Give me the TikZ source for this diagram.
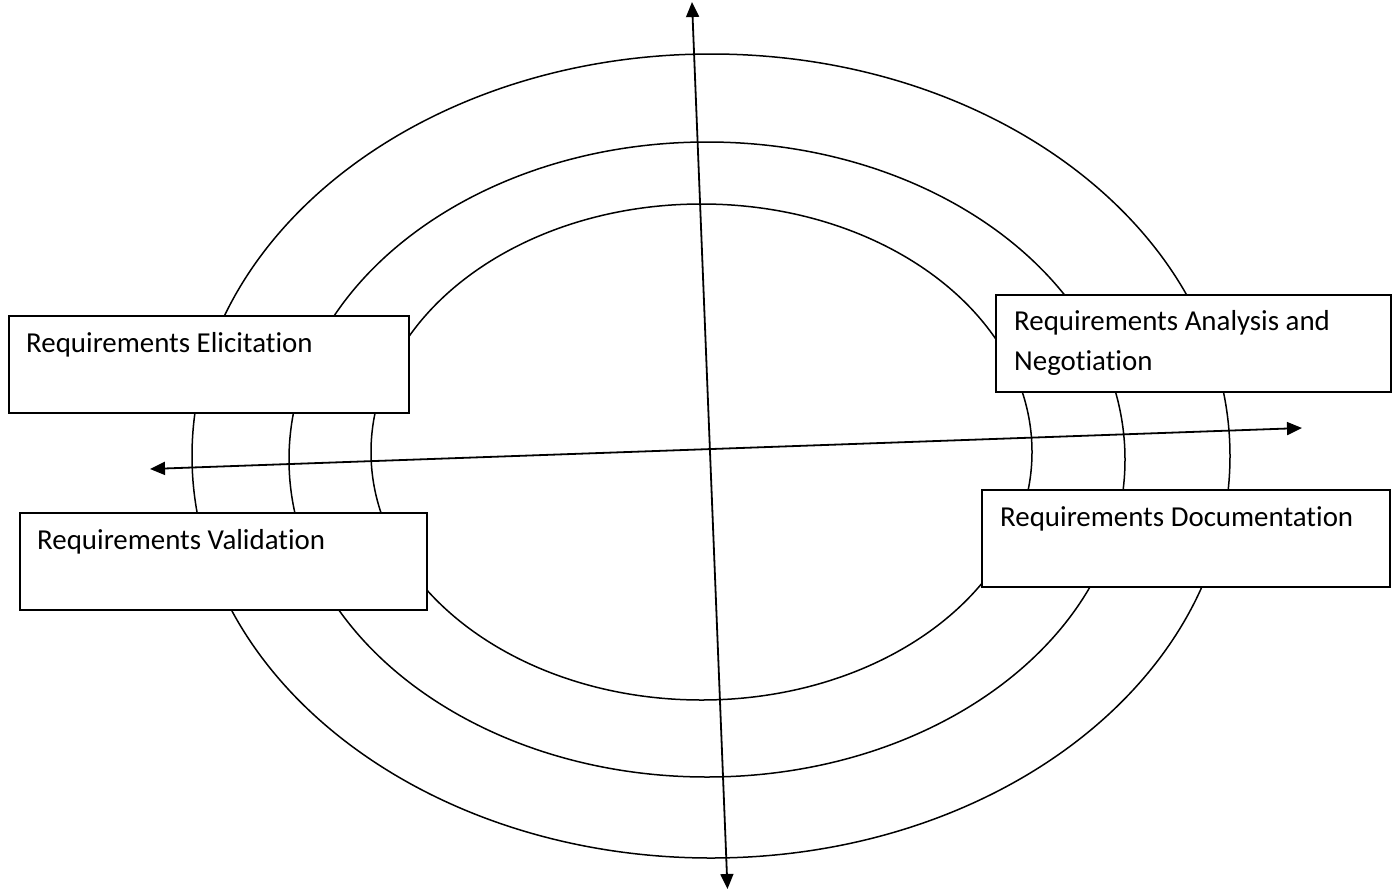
\documentclass[tikz,border=0pt]{standalone}
\usepackage{fontspec}
\setmainfont[Ligatures=NoCommon]{Carlito}
\usetikzlibrary{arrows.meta}
\begin{document}
\begin{tikzpicture}[x=1pt,y=-1pt,
  ring/.style={draw=black,line width=1.5pt},
  stagebox/.style={draw=black,fill=white,line width=1.7pt,rectangle,inner sep=0pt,anchor=north west},
  lbl/.style={inner sep=0pt,anchor=base west,font=\fontsize{28.9}{40}\selectfont},
  axis/.style={draw=black,line width=1.8pt,{Triangle[length=15pt,width=13pt]}-{Triangle[length=15pt,width=13pt]}}
]
\useasboundingbox[fill=white] (0,0) rectangle (1400,892);

% three nested process rings
\draw[ring] (711,456) ellipse [x radius=519pt, y radius=402pt];
\draw[ring] (707,459.5) ellipse [x radius=418pt, y radius=317.5pt];
\draw[ring] (701.5,452) ellipse [x radius=330.5pt, y radius=248pt];

% axes through the rings
\coordinate (vtop) at (692,2);
\coordinate (vbot) at (727.5,889);
\coordinate (hleft) at (150,469);
\coordinate (hright) at (1302,428);
\draw[axis] (vbot) -- (vtop);
\draw[axis] (hright) -- (hleft);

% stage boxes
\node[stagebox,minimum width=400pt,minimum height=97pt] (elic) at (8,315) {};
\node[stagebox,minimum width=407pt,minimum height=97pt] (valid) at (19,512) {};
\node[stagebox,minimum width=395pt,minimum height=97pt] (anal) at (995,294) {};
\node[stagebox,minimum width=408pt,minimum height=97pt] (docu) at (981,489) {};

% stage labels
\node[lbl] (elicT) at ([shift={(18,37)}]elic.north west) {Requirements Elicitation};
\node[lbl] (validT) at ([shift={(18,37)}]valid.north west) {Requirements Validation};
\node[lbl] (analT) at ([shift={(19,36)}]anal.north west) {Requirements Analysis and};
\node[lbl] (analT2) at ([shift={(0,40)}]analT.base west) {Negotiation};
\node[lbl] (docuT) at ([shift={(19,37)}]docu.north west) {Requirements Documentation};
\end{tikzpicture}
\end{document}
